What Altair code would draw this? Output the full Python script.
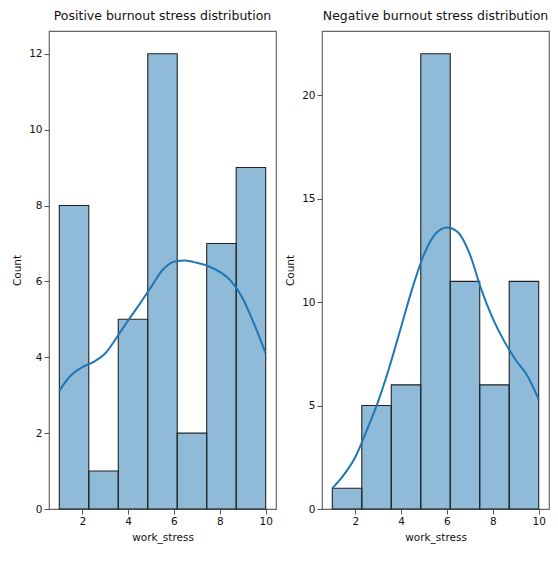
import altair as alt
import pandas as pd

# ---- data ----
bin_edges = [1.0, 2.2857, 3.5714, 4.8571, 6.1429, 7.4286, 8.7143, 10.0]
pos_counts = [8, 1, 5, 12, 2, 7, 9]
neg_counts = [1, 5, 6, 22, 11, 6, 11]

kde_x = [1.0, 1.5, 2.0, 2.5, 3.0, 3.5, 4.0, 4.5, 5.0, 5.5,
         6.0, 6.5, 7.0, 7.5, 8.0, 8.5, 9.0, 9.5, 10.0]
pos_kde = [3.12, 3.52, 3.74, 3.88, 4.1, 4.52, 4.97, 5.4, 5.85, 6.3,
           6.52, 6.55, 6.49, 6.4, 6.25, 6.0, 5.55, 4.87, 4.1]
neg_kde = [1.0, 1.65, 2.5, 3.8, 5.2, 6.9, 8.8, 10.7, 12.3, 13.3,
           13.6, 13.35, 12.3, 10.6, 9.2, 8.1, 7.2, 6.45, 5.3]

titles = ["Positive burnout stress distribution", "Negative burnout stress distribution"]
x_ticks = [2, 4, 6, 8, 10]
pos_y_ticks = [0, 2, 4, 6, 8, 10, 12]
neg_y_ticks = [0, 5, 10, 15, 20]

FONT = "DejaVu Sans"
BLUE = "#1f77b4"


def panel(counts, kde, title, ymax, yticks):
    bars_df = pd.DataFrame({"start": bin_edges[:-1], "end": bin_edges[1:], "count": counts})
    kde_df = pd.DataFrame({"x": kde_x, "y": kde})
    xscale = alt.Scale(domain=[0.55, 10.45], nice=False, zero=False)
    yscale = alt.Scale(domain=[0, ymax], nice=False, zero=True)
    xaxis = alt.Axis(values=x_ticks, title="work_stress", grid=False, domain=False,
                     tickSize=5, labelPadding=2, titlePadding=6)
    yaxis = alt.Axis(values=yticks, title="Count", grid=False, domain=False,
                     tickSize=5, labelPadding=2, titlePadding=6)
    bars = alt.Chart(bars_df).mark_rect(
        fill=BLUE, fillOpacity=0.5, stroke="#222222", strokeWidth=1.1
    ).encode(
        x=alt.X("start:Q", scale=xscale, axis=xaxis),
        x2="end:Q",
        y=alt.Y("count:Q", scale=yscale, axis=yaxis),
        y2=alt.datum(0),
    )
    line = alt.Chart(kde_df).mark_line(
        color=BLUE, strokeWidth=2, interpolate="monotone"
    ).encode(
        x=alt.X("x:Q", scale=xscale),
        y=alt.Y("y:Q", scale=yscale),
    )
    return alt.layer(bars, line).properties(
        width=227, height=478,
        title=alt.TitleParams(title, fontSize=12.5, fontWeight="normal", font=FONT,
                              color="#111111", offset=9),
    )


left = panel(pos_counts, pos_kde, titles[0], 12.6, pos_y_ticks)
right = panel(neg_counts, neg_kde, titles[1], 23.1, neg_y_ticks)

chart = alt.hconcat(left, right, spacing=8).properties(
    padding={"left": 4, "top": 0, "right": 0, "bottom": 0}
).configure_view(
    stroke="#666666", strokeWidth=1.2
).configure_axis(
    labelFont=FONT, titleFont=FONT, labelFontSize=10.5, titleFontSize=10.5,
    titleFontWeight="normal", labelColor="#111111", titleColor="#111111",
    tickColor="#555555"
)

chart.save("out.html", embed_options={"renderer": "svg", "actions": False})
